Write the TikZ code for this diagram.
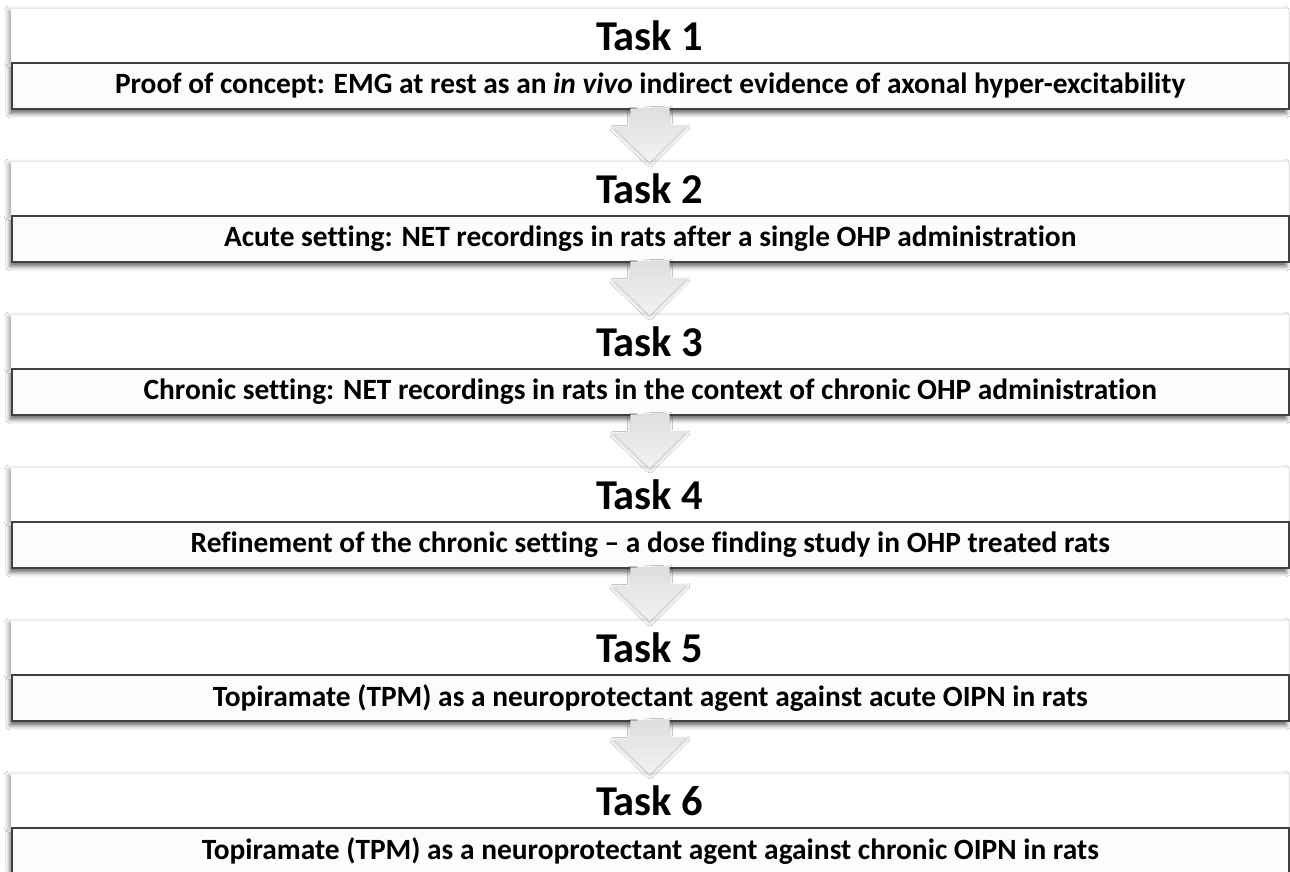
\documentclass[tikz,border=0pt]{standalone}
\usepackage{fontspec}
\setmainfont[Ligatures=NoCommon]{Carlito}
\usetikzlibrary{shadows.blur}
\begin{document}
\begin{tikzpicture}[x=1pt,y=-1pt,
  titlebox/.style={draw=none, fill=white, minimum width=1277pt, minimum height=53pt,
    inner sep=0pt, anchor=north west, font=\fontsize{42.5}{46}\selectfont\bfseries,
    blur shadow={shadow xshift=-3pt, shadow yshift=-1pt, shadow blur radius=4pt, shadow opacity=35}},
  descbox/.style={draw=black!75, line width=1.5pt, fill=black!1, minimum width=1277pt,
    minimum height=46pt, inner sep=0pt, anchor=north west, font=\fontsize{29.4}{32}\selectfont\bfseries,
    blur shadow={shadow xshift=-2pt, shadow yshift=-5pt, shadow blur radius=4pt, shadow opacity=55}},
  arrowshape/.style={top color=black!13, bottom color=black!5, draw=none,
    blur shadow={shadow xshift=0pt, shadow yshift=-2pt, shadow blur radius=3pt, shadow opacity=25}}
]
\useasboundingbox (0,0) rectangle (1290,871);
\fill[white] (0,0) rectangle (1290,871);

\node[titlebox] (t1) at (11,9)   {Task 1};
\node[titlebox] (t2) at (11,162) {Task 2};
\node[titlebox] (t3) at (11,315) {Task 3};
\node[titlebox] (t4) at (11,468) {Task 4};
\node[titlebox] (t5) at (11,621) {Task 5};
\node[titlebox] (t6) at (11,774) {Task 6};

\node[descbox] (d1) at (11,62)  {Proof of concept: EMG at rest as an \textit{in vivo} indirect evidence of axonal hyper-excitability};
\node[descbox] (d2) at (11,215) {Acute setting: NET recordings in rats after a single OHP administration};
\node[descbox] (d3) at (11,368) {Chronic setting: NET recordings in rats in the context of chronic OHP administration};
\node[descbox] (d4) at (11,521) {Refinement of the chronic setting -- a dose finding study in OHP treated rats};
\node[descbox] (d5) at (11,674) {Topiramate (TPM) as a neuroprotectant agent against acute OIPN in rats};
\node[descbox] (d6) at (11,827) {Topiramate (TPM) as a neuroprotectant agent against chronic OIPN in rats};

\foreach \i/\j in {1/2,2/3,3/4,4/5,5/6}{
  \path[arrowshape] (d\i.south) ++(-20,-1) -- ++(0,18) -- ++(-17.5,0) -- (t\j.north)
     -- ++(37.5,-37) -- ++(-17.5,0) -- ++(0,-18) -- cycle;
}
\end{tikzpicture}
\end{document}
